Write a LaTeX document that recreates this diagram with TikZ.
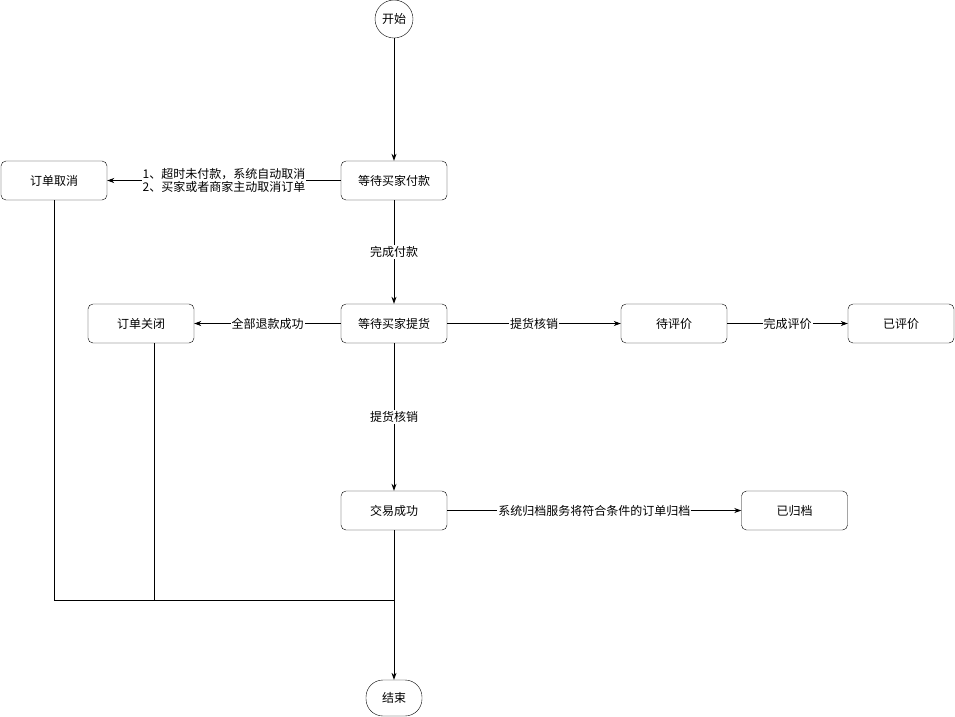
\documentclass[tikz,border=0pt]{standalone}
\usepackage{fontspec}
\setmainfont{Noto Sans CJK SC}
\usetikzlibrary{arrows.meta}
\begin{document}
\begin{tikzpicture}[x=1pt,y=-1pt,
  box/.style={draw,rounded corners=5pt,minimum width=106pt,minimum height=39pt,inner sep=0pt,font=\fontsize{12}{14}\selectfont},
  lab/.style={fill=white,inner sep=1pt,font=\fontsize{12}{14}\selectfont},
  arr/.style={-{Stealth[length=7pt,width=5pt]},line width=0.8pt},
  ln/.style={line width=0.8pt}]
\useasboundingbox (0,0) rectangle (955,716);
\node[draw,circle,minimum size=38pt,inner sep=0pt,font=\fontsize{12}{14}\selectfont] (start) at (394,19) {开始};
\node[box] (pay) at (394,180.5) {等待买家付款};
\node[box] (cancel) at (54,180.5) {订单取消};
\node[box] (pick) at (394,323.5) {等待买家提货};
\node[box] (close) at (141,323.5) {订单关闭};
\node[box] (wait) at (674,323.5) {待评价};
\node[box] (done) at (901,323.5) {已评价};
\node[box] (ok) at (394,510.5) {交易成功};
\node[box] (arch) at (794.5,510.5) {已归档};
\node[draw,rounded corners=17pt,minimum width=56pt,minimum height=36pt,inner sep=0pt,font=\fontsize{12}{14}\selectfont] (end) at (394,698) {结束};
\draw[arr] (start) -- (pay);
\draw[arr] (pay) -- node[lab,align=left,font=\fontsize{12}{13}\selectfont]{1、超时未付款，系统自动取消\\2、买家或者商家主动取消订单} (cancel);
\draw[arr] (pay) -- node[lab]{完成付款} (pick);
\draw[arr] (pick) -- node[lab]{全部退款成功} (close);
\draw[arr] (pick) -- node[lab]{提货核销} (wait);
\draw[arr] (wait) -- node[lab]{完成评价} (done);
\draw[arr] (pick) -- node[lab]{提货核销} (ok);
\draw[arr] (ok) -- node[lab]{系统归档服务将符合条件的订单归档} (arch);
\coordinate (j) at (394,600);
\coordinate (c1) at (54,600);
\coordinate (c2) at (154,600);
\draw[ln] (cancel.south) -- (c1) -- (j);
\draw[ln] (close.south -| c2) -- (c2);
\draw[arr] (ok) -- (end);
\end{tikzpicture}
\end{document}
